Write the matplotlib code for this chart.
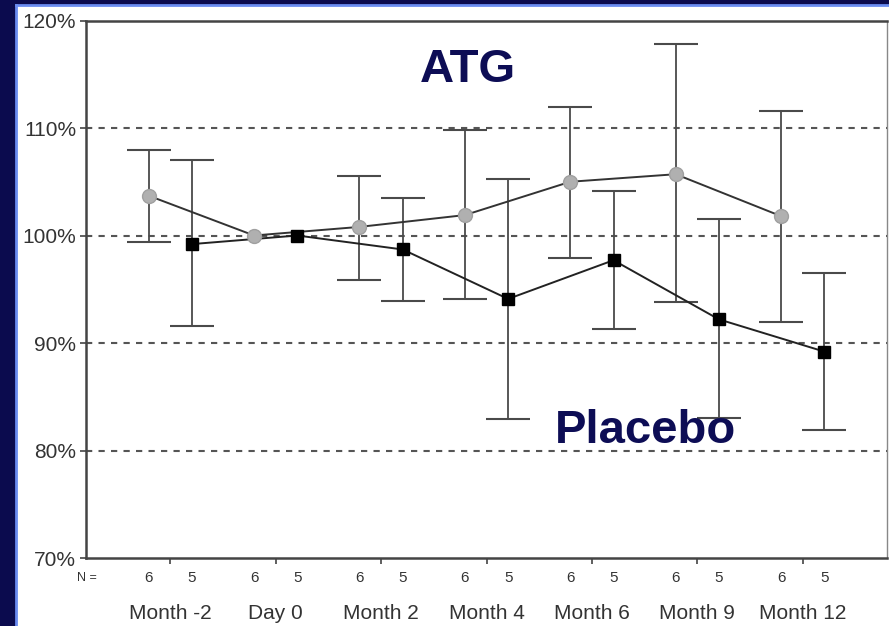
import matplotlib
matplotlib.use("Agg")
import matplotlib.pyplot as plt
import matplotlib.transforms as mtransforms
from matplotlib.patches import Rectangle
from matplotlib.lines import Line2D
import numpy as np

plt.rcParams['font.family'] = ['Liberation Sans', 'DejaVu Sans']

categories = ["Month -2", "Day 0", "Month 2", "Month 4", "Month 6", "Month 9", "Month 12"]
atg_mean = [103.7, 100.0, 100.8, 101.9, 105.0, 105.7, 101.8]
atg_upper = [108.0, 100.0, 105.5, 109.8, 112.0, 117.8, 111.6]
atg_lower = [99.4, 100.0, 95.9, 94.1, 97.9, 93.8, 92.0]
placebo_mean = [99.2, 100.0, 98.7, 94.1, 97.7, 92.2, 89.2]
placebo_upper = [107.0, 100.0, 103.5, 105.3, 104.1, 101.5, 96.5]
placebo_lower = [91.6, 100.0, 93.9, 82.9, 91.3, 83.0, 81.9]
atg_n = [6, 6, 6, 6, 6, 6, 6]
placebo_n = [5, 5, 5, 5, 5, 5, 5]
yticks = [70, 80, 90, 100, 110, 120]

navy = "#0b0b4e"
W, H = 889, 626
fig = plt.figure(figsize=(W / 100, H / 100), dpi=100, facecolor=navy)

# white panel with light blue border
fig.patches.append(Rectangle((17 / W, 0), 1 - 17 / W, 1 - 6 / H, transform=fig.transFigure,
                             facecolor="white", edgecolor="none", zorder=-10))
fig.lines.append(Line2D([16 / W, 16 / W], [0, 1 - 5 / H], transform=fig.transFigure,
                        color="#6a8cf0", lw=2, zorder=-9))
fig.lines.append(Line2D([16 / W, 1], [1 - 5 / H, 1 - 5 / H], transform=fig.transFigure,
                        color="#6a8cf0", lw=2, zorder=-9))

ax = fig.add_axes([86 / W, 1 - 558 / H, 801 / W, 537.5 / H])
ax.set_facecolor("white")

x = np.arange(len(categories))
off = 0.205
xa = x - off
xp = x + off

am = np.array(atg_mean)
pm = np.array(placebo_mean)
au, al = np.array(atg_upper), np.array(atg_lower)
pu, pl = np.array(placebo_upper), np.array(placebo_lower)

# grid lines
for v in [80, 90, 100, 110]:
    ax.axhline(v, color="#555555", lw=1.5, ls=(0, (3, 3)), zorder=1)

ma = au > al
mp = pu > pl
ax.errorbar(xa[ma], am[ma], yerr=[am[ma] - al[ma], au[ma] - am[ma]], fmt="none",
            ecolor="#4a4a4a", elinewidth=1.3, capsize=16, capthick=1.5, zorder=2)
ax.errorbar(xp[mp], pm[mp], yerr=[pm[mp] - pl[mp], pu[mp] - pm[mp]], fmt="none",
            ecolor="#4a4a4a", elinewidth=1.3, capsize=16, capthick=1.5, zorder=2)

ax.plot(xa, am, color="#333333", lw=1.4, zorder=3)
ax.plot(xp, pm, color="#222222", lw=1.4, zorder=3)
ax.plot(xa, am, ls="none", marker="o", ms=10, mfc="#b0b0b0", mec="#a0a0a0", zorder=4)
ax.plot(xp, pm, ls="none", marker="s", ms=9, mfc="black", mec="black", zorder=5)

ax.set_xlim(-0.8, 6.8)
ax.set_ylim(70, 120)
ax.set_yticks(yticks)
ax.set_yticklabels([f"{v}%" for v in yticks], fontsize=15, color="#333333")
ax.set_xticks(x)
ax.set_xticklabels(categories, fontsize=15, color="#333333")
ax.tick_params(axis="x", direction="out", length=4, width=1.2, color="#444444", pad=29)
ax.tick_params(axis="y", direction="out", length=4, width=1.2, color="#444444", pad=3)

for s in ax.spines.values():
    s.set_color("#444444")
    s.set_linewidth(1.8)
ax.spines["right"].set_linewidth(1.0)
ax.spines["right"].set_color("#888888")

trans = mtransforms.blended_transform_factory(ax.transData, fig.transFigure)
ny = 1 - 578 / H
for i in range(len(categories)):
    ax.text(xa[i], ny, str(atg_n[i]), transform=trans, ha="center", va="center",
            fontsize=11, color="#333333")
    ax.text(xp[i], ny, str(placebo_n[i]), transform=trans, ha="center", va="center",
            fontsize=11, color="#333333")
fig.text(87 / W, ny, "N =", ha="center", va="center", fontsize=9, color="#333333")

fig.text(468 / W, 1 - 70 / H, "ATG", ha="center", va="center", fontsize=34,
         fontweight="bold", color="#0d0d55")
fig.text(646 / W, 1 - 431 / H, "Placebo", ha="center", va="center", fontsize=34,
         fontweight="bold", color="#0d0d55")

fig.savefig("out.png", dpi=100, facecolor=navy)
